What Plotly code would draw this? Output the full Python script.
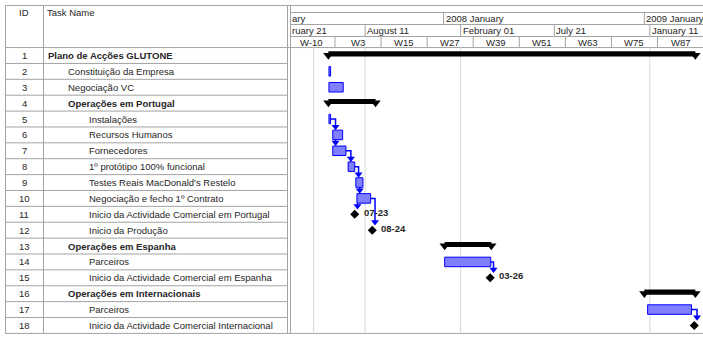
import plotly.graph_objects as go
import pandas as pd

# ---------------- data ----------------
task_ids = list(range(1, 19))
task_names = [
    "Plano de Acções GLUTONE",
    "Constituição da Empresa",
    "Negociação VC",
    "Operações em Portugal",
    "Instalações",
    "Recursos Humanos",
    "Fornecedores",
    "1º protótipo 100% funcional",
    "Testes Reais MacDonald's Restelo",
    "Negociação e fecho 1º Contrato",
    "Inicio da Actividade Comercial em Portugal",
    "Inicio da Produção",
    "Operações em Espanha",
    "Parceiros",
    "Inicio da Actividade Comercial em Espanha",
    "Operações em Internacionais",
    "Parceiros",
    "Inicio da Actividade Comercial Internacional",
]
outline_levels = [1, 2, 2, 2, 3, 3, 3, 3, 3, 3, 3, 3, 2, 3, 3, 2, 3, 3]
task_types = ["summary", "task", "task", "summary", "task", "task", "task", "task", "task",
              "task", "milestone", "milestone", "summary", "task", "milestone", "summary",
              "task", "milestone"]
start_dates = ["2007-06-05", "2007-06-06", "2007-06-06", "2007-06-05", "2007-06-06",
               "2007-06-13", "2007-06-13", "2007-07-11", "2007-07-25", "2007-07-27",
               "2007-07-23", "2007-08-24", "2008-01-03", "2008-01-03", "2008-03-26",
               "2009-01-01", "2009-01-07", "2009-04-02"]
finish_dates = ["2009-04-04", "2007-06-09", "2007-07-02", "2007-08-30", "2007-06-09",
                "2007-07-01", "2007-07-07", "2007-07-23", "2007-08-07", "2007-08-21",
                "2007-07-23", "2007-08-24", "2008-03-28", "2008-03-27", "2008-03-26",
                "2009-04-04", "2009-03-28", "2009-04-02"]
milestone_labels = ["", "", "", "", "", "", "", "", "", "",
                    "07-23", "08-24", "", "", "03-26", "", "", ""]
link_from = [5, 6, 7, 8, 9, 10, 10, 14, 17]
link_to = [6, 7, 8, 9, 10, 11, 12, 15, 18]

# timescale
view_start, view_end = "2007-03-27 22:00", "2009-04-17 22:00"
year_dates = ["2008-01-01", "2009-01-01"]
year_labels = ["2008 January", "2009 January"]
year_clipped_label = "ary"
month_dates = ["2007-08-11", "2008-02-01", "2008-07-21", "2009-01-11"]
month_labels = ["August 11", "February 01", "July 21", "January 11"]
month_clipped_label = "ruary 21"
week_starts = ["2007-03-25", "2007-06-17", "2007-09-09", "2007-12-02", "2008-02-24",
               "2008-05-18", "2008-08-10", "2008-11-02", "2009-01-25", "2009-04-19"]
week_labels = ["W-10", "W3", "W15", "W27", "W39", "W51", "W63", "W75", "W87"]
gridline_dates = ["2007-05-09", "2007-08-11", "2008-02-01", "2009-01-11"]

# ---------------- layout constants (pixels) ----------------
W, H = 703, 338
ROW1_PX, ROW_H = 55.5, 15.88
Y_TOP = 1 - ROW1_PX / ROW_H
Y_BOT = 1 + (H - ROW1_PX) / ROW_H
TABLE_L, ID_R, TABLE_R, CHART_L = 5.5, 43.5, 287.5, 290.5
HDR_TOP, T1, T2, T3 = 5.5, 12.5, 24.5, 36.5
LEVEL_X = {1: 46, 2: 66, 3: 87}
FONT = "Liberation Sans, Arial, sans-serif"
TXT = "#262626"
GRID = "#a3a3a3"
BAR_FILL, BAR_LINE = "#8080ff", "#0000ff"


def px(x):
    return x / W


def py(y):
    return 1 - y / H


start = pd.to_datetime(start_dates)
finish = pd.to_datetime(finish_dates)
view_days = (pd.Timestamp(view_end) - pd.Timestamp(view_start)) / pd.Timedelta(days=1)
px_per_day = (W - CHART_L) / view_days

fig = go.Figure()

# ---- task bars ----
t_idx = [i for i, t in enumerate(task_types) if t == "task"]
fig.add_trace(go.Bar(
    orientation="h",
    y=[task_ids[i] for i in t_idx],
    base=[start[i].strftime("%Y-%m-%d") for i in t_idx],
    x=[(finish[i] - start[i]) / pd.Timedelta(milliseconds=1) for i in t_idx],
    width=0.6,
    marker=dict(color=BAR_FILL, line=dict(color=BAR_LINE, width=1)),
    hoverinfo="skip",
))

# ---- summary bars ----
s_idx = [i for i, t in enumerate(task_types) if t == "summary"]
fig.add_trace(go.Bar(
    orientation="h",
    y=[task_ids[i] for i in s_idx],
    base=[start[i].strftime("%Y-%m-%d") for i in s_idx],
    x=[(finish[i] - start[i]) / pd.Timedelta(milliseconds=1) for i in s_idx],
    width=0.32, offset=-0.26,
    marker=dict(color="black", line=dict(width=0)),
    hoverinfo="skip",
))
cap_x, cap_y = [], []
for i in s_idx:
    cap_x += [start[i], finish[i]]
    cap_y += [task_ids[i] - 0.02, task_ids[i] - 0.02]
fig.add_trace(go.Scatter(x=cap_x, y=cap_y, mode="markers",
                         marker=dict(symbol="triangle-down", size=9, color="black"),
                         hoverinfo="skip"))

# ---- dependency links ----
gap = pd.Timedelta(days=5)
lx, ly, hx, hy = [], [], [], []
half = {"task": 0.3, "milestone": 0.3, "summary": 0.3}
head_off = 3.5 / ROW_H
for a, b in zip(link_from, link_to):
    ia, ib = a - 1, b - 1
    pe, ss = finish[ia], start[ib]
    target = b - half[task_types[ib]] - head_off
    if pe <= ss + pd.Timedelta(days=3):
        xd = max(pe, ss) + gap
        lx += [pe, xd, xd, None]
        ly += [a, a, target, None]
    else:
        xd = ss + gap
        lx += [xd, xd, None]
        ly += [a + half[task_types[ia]], target, None]
    hx.append(xd)
    hy.append(target)
fig.add_trace(go.Scatter(x=lx, y=ly, mode="lines",
                         line=dict(color=BAR_LINE, width=1.5), hoverinfo="skip"))
fig.add_trace(go.Scatter(x=hx, y=hy, mode="markers",
                         marker=dict(symbol="triangle-down", size=7, color=BAR_LINE),
                         hoverinfo="skip"))

# ---- milestones ----
m_idx = [i for i, t in enumerate(task_types) if t == "milestone"]
fig.add_trace(go.Scatter(x=[start[i] for i in m_idx], y=[task_ids[i] for i in m_idx],
                         mode="markers",
                         marker=dict(symbol="diamond", size=7, color="black"),
                         hoverinfo="skip"))

annotations = []


def note(**kw):
    base = dict(showarrow=False, font=dict(family=FONT, size=9.5, color=TXT),
                xanchor="left", yanchor="middle")
    base.update(kw)
    annotations.append(base)


for i in m_idx:
    if milestone_labels[i]:
        note(x=start[i], y=task_ids[i], xref="x", yref="y",
             text="<b>%s</b>" % milestone_labels[i], xshift=7, yshift=2)

# ---- table text ----
note(x=px(24), y=py(12.7), xref="paper", yref="paper", text="ID", xanchor="center")
note(x=px(44.5), y=py(12.7), xref="paper", yref="paper", text="Task Name")
for i, tid in enumerate(task_ids):
    note(x=px(24), y=tid, xref="paper", yref="y", text=str(tid), xanchor="center")
    name = task_names[i]
    if task_types[i] == "summary":
        name = "<b>%s</b>" % name
    note(x=px(LEVEL_X[outline_levels[i]]), y=tid, xref="paper", yref="y", text=name)

# ---- timescale text ----
note(x=px(CHART_L), y=py(18.5), xref="paper", yref="paper", text=year_clipped_label, xshift=-1)
for d, t in zip(year_dates, year_labels):
    note(x=d, y=py(18.5), xref="x", yref="paper", text=t, xshift=0)
note(x=px(CHART_L), y=py(30.5), xref="paper", yref="paper", text=month_clipped_label, xshift=-1)
for d, t in zip(month_dates, month_labels):
    note(x=d, y=py(30.5), xref="x", yref="paper", text=t, xshift=0)
ws = pd.to_datetime(week_starts)
for k, t in enumerate(week_labels):
    mid = ws[k] + (ws[k + 1] - ws[k]) / 2
    note(x=mid, y=py(42.3), xref="x", yref="paper", text=t, xanchor="center")

# ---- grid / table lines ----
shapes = []


def line(x0, y0, x1, y1, xref="paper", yref="paper", color=GRID, width=1):
    shapes.append(dict(type="line", x0=x0, y0=y0, x1=x1, y1=y1, xref=xref, yref=yref,
                       line=dict(color=color, width=width), layer="below"))


# data-area vertical guide lines
for d in gridline_dates:
    line(d, 0.5, d, 18.5, xref="x", yref="y", color="#d9d9d9")

bottom_y = 18.5
# horizontal borders
line(px(TABLE_L), py(HDR_TOP), 1, py(HDR_TOP))
line(px(TABLE_L), 0.5, 1, 0.5, yref="y")
line(px(TABLE_L), bottom_y, 1, bottom_y, yref="y")
for r in range(1, 18):
    line(px(TABLE_L), r + 0.5, px(TABLE_R), r + 0.5, yref="y")
for ty in (T1, T2, T3):
    line(px(CHART_L), py(ty), 1, py(ty))
# vertical borders
for xx in (TABLE_L, ID_R, TABLE_R, CHART_L):
    line(px(xx), py(HDR_TOP), px(xx), py(H - 4.6))
# timescale separators
for d in year_dates:
    line(d, py(T1), d, py(T2), xref="x")
for d in month_dates:
    line(d, py(T2), d, py(T3), xref="x")
for d in week_starts[1:-1]:
    line(d, py(T3), d, py(47.6), xref="x")

fig.update_layout(
    width=W, height=H, margin=dict(l=0, r=0, t=0, b=0),
    paper_bgcolor="white", plot_bgcolor="white", showlegend=False,
    barmode="overlay",
    xaxis=dict(type="date", range=[view_start, view_end], domain=[CHART_L / W, 1],
               visible=False, fixedrange=True),
    yaxis=dict(range=[Y_BOT, Y_TOP], domain=[0, 1], visible=False, fixedrange=True),
    annotations=annotations, shapes=shapes,
)
fig.write_html("out.html")
